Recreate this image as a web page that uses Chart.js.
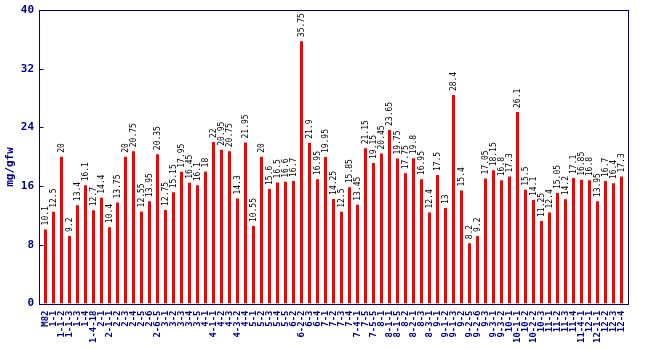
<!DOCTYPE html>
<html>
<head>
<meta charset="utf-8">
<script src="https://cdn.jsdelivr.net/npm/chart.js@4/dist/chart.umd.min.js"></script>
<style>
  html, body { margin: 0; padding: 0; background: #fff; }
</style>
</head>
<body>
<canvas id="bar-chart" width="650" height="350"></canvas>
<script>
// Data
const lines = [
    "M82", "1-1", "1-1-2", "1-1-3", "1-3", "1-4", "1-4-18", "2-1", "2-1-1", "2-2",
    "2-3", "2-4", "2-5", "2-6", "2-6-5", "3-1", "3-2", "3-3", "3-4", "3-5",
    "4-1", "4-1-1", "4-2", "4-3", "4-3-2", "4-4", "5-1", "5-2", "5-3", "5-4",
    "5-5", "6-2", "6-2-2", "6-3", "6-4", "7-1", "7-2", "7-3", "7-4", "7-4-1",
    "7-5", "7-5-5", "8-1", "8-1-1", "8-1-5", "8-2", "8-2-1", "8-3", "8-3-1", "9-1",
    "9-1-2", "9-1-3", "9-2", "9-2-5", "9-2-6", "9-3", "9-3-1", "9-3-2", "10-1", "10-1-1",
    "10-2", "10-2-2", "10-3", "11-1", "11-2", "11-3", "11-4", "11-4-1", "12-1", "12-1-1",
    "12-2", "12-3", "12-4"
];
const values = [
    10.1, 12.5, 20, 9.2, 13.4, 16.1, 12.7, 14.4, 10.4, 13.75,
    20, 20.75, 12.55, 13.95, 20.35, 12.75, 15.15, 17.95, 16.45, 16.1,
    18, 22, 20.95, 20.75, 14.3, 21.95, 10.55, 20, 15.6, 16.5,
    16.6, 16.7, 35.75, 21.9, 16.95, 19.95, 14.25, 12.5, 15.85, 13.45,
    21.15, 19.15, 20.45, 23.65, 19.75, 17.75, 19.8, 16.95, 12.4, 17.5,
    13, 28.4, 15.4, 8.2, 9.2, 17.05, 18.15, 16.8, 17.3, 26.1,
    15.5, 14.1, 11.25, 12.4, 15.05, 14.2, 17.1, 16.85, 16.8, 13.95,
    16.7, 16.4, 17.3
];
const yTicks = [0, 8, 16, 24, 32, 40];
const yTitle = "mg/gfw";

const navy = "#00008b";
const mono = "'DejaVu Sans Mono', 'Liberation Mono', monospace";

// frame, inner y ticks, value labels and axis title
const decorations = {
    id: "decorations",
    afterDatasetsDraw(chart) {
        const c = chart.ctx;
        const area = chart.chartArea;
        const yScale = chart.scales.y;
        const left = Math.round(area.left - 3) + 0.5;
        const right = Math.round(area.right + 3) - 0.5;

        // value labels above bars
        const meta = chart.getDatasetMeta(0);
        c.save();
        c.fillStyle = "#000";
        c.font = "8px " + mono;
        c.textAlign = "left";
        c.textBaseline = "middle";
        meta.data.forEach((bar, i) => {
            c.save();
            c.translate(bar.x, bar.y - 4);
            c.rotate(-Math.PI / 2);
            c.fillText(String(values[i]), 0, 0);
            c.restore();
        });
        c.restore();

        // frame
        c.save();
        c.strokeStyle = navy;
        c.lineWidth = 1;
        c.strokeRect(left, Math.round(area.top) + 0.5, right - left, Math.round(area.bottom - area.top));
        c.beginPath();
        yTicks.forEach((v) => {
            const y = Math.round(yScale.getPixelForValue(v)) + 0.5;
            c.moveTo(left, y);
            c.lineTo(left + 4, y);
        });
        c.stroke();

        // y axis title
        c.fillStyle = navy;
        c.font = "bold 11px " + mono;
        c.textAlign = "center";
        c.textBaseline = "middle";
        c.translate(10.5, 167);
        c.rotate(-Math.PI / 2);
        c.fillText(yTitle, 0, 0);
        c.restore();
    },
};

new Chart(document.getElementById("bar-chart").getContext("2d"), {
    type: "bar",
    data: {
        labels: lines,
        datasets: [
            {
                data: values,
                backgroundColor: "#ff0000",
                borderWidth: 0,
                barPercentage: 0.375,
                categoryPercentage: 1,
            },
        ],
    },
    options: {
        responsive: false,
        animation: false,
        layout: { padding: { top: 10, right: 24.5, left: 0, bottom: 0 } },
        plugins: {
            legend: { display: false },
            tooltip: { enabled: false },
        },
        scales: {
            x: {
                offset: true,
                grid: { display: false, drawTicks: false },
                border: { display: false },
                ticks: {
                    autoSkip: false,
                    maxRotation: 90,
                    minRotation: 90,
                    padding: 7,
                    color: navy,
                    font: { family: mono, size: 9, weight: "bold" },
                },
                afterFit(scale) { scale.height = 46.5; },
            },
            y: {
                min: 0,
                max: 40,
                grid: { display: false, drawTicks: false },
                border: { display: false },
                afterBuildTicks(scale) { scale.ticks = yTicks.map((v) => ({ value: v })); },
                ticks: {
                    padding: 7.5,
                    color: navy,
                    font: { family: mono, size: 11, weight: "bold" },
                },
                afterFit(scale) {
                    scale.width = 41.5;
                    scale.paddingTop = 0;
                    scale.paddingBottom = 0;
                },
            },
        },
    },
    plugins: [decorations],
});
</script>
</body>
</html>
